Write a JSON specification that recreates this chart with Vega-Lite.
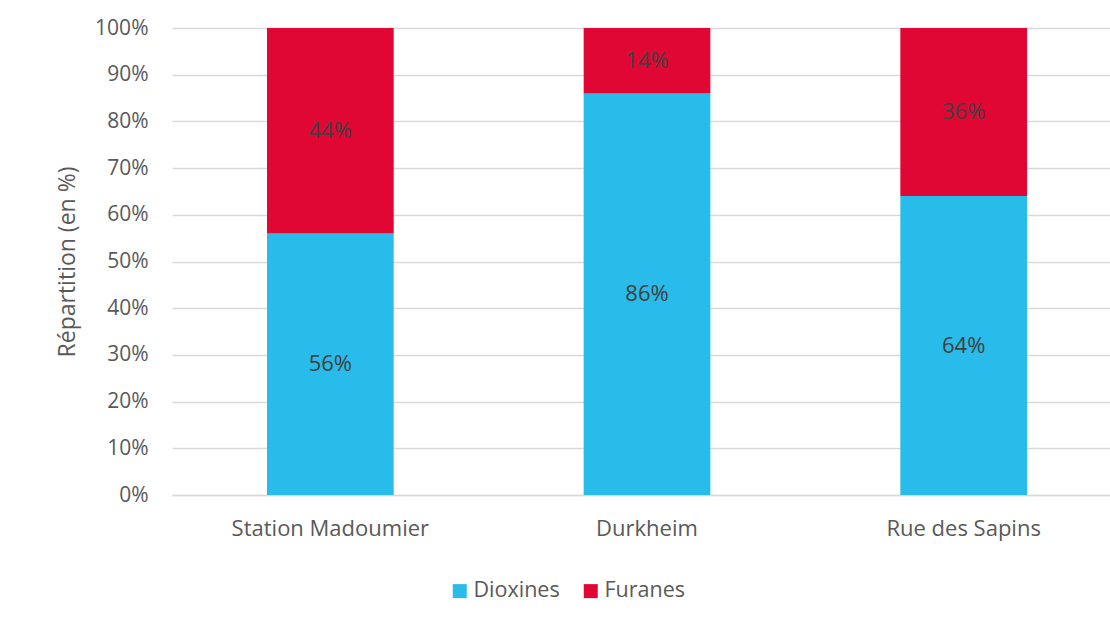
{
  "$schema": "https://vega.github.io/schema/vega-lite/v6.json",
  "autosize": {"type": "none"},
  "width": 950,
  "height": 467,
  "padding": {"left": 172, "top": 28, "right": -12, "bottom": 131},
  "background": "white",
  "config": {
    "font": "Open Sans",
    "view": {"stroke": null},
    "axis": {"labelFont": "Open Sans", "titleFont": "Open Sans", "labelColor": "#595959", "titleColor": "#595959"}
  },
  "data": {
    "values": [
      {"site": "Station Madoumier", "type": "Dioxines", "value": 56},
      {"site": "Station Madoumier", "type": "Furanes", "value": 44},
      {"site": "Durkheim", "type": "Dioxines", "value": 86},
      {"site": "Durkheim", "type": "Furanes", "value": 14},
      {"site": "Rue des Sapins", "type": "Dioxines", "value": 64},
      {"site": "Rue des Sapins", "type": "Furanes", "value": 36}
    ]
  },
  "transform": [
    {"stack": "value", "groupby": ["site"], "sort": [{"field": "type", "order": "ascending"}], "as": ["v0", "v1"]},
    {"calculate": "(datum.v0 + datum.v1) / 2", "as": "mid"},
    {"calculate": "datum.value + '%'", "as": "label"}
  ],
  "encoding": {
    "x": {
      "field": "site",
      "type": "nominal",
      "sort": ["Station Madoumier", "Durkheim", "Rue des Sapins"],
      "scale": {"paddingInner": 0.6, "paddingOuter": 0.3},
      "axis": {
        "title": null,
        "labelAngle": 0,
        "labelFontSize": 22,
        "labelLimit": 500,
        "labelPadding": 23,
        "ticks": false,
        "tickSize": 0,
        "domain": true,
        "domainColor": "#D9D9D9",
        "domainWidth": 1.5,
        "grid": false
      }
    }
  },
  "layer": [
    {
      "mark": {"type": "bar"},
      "encoding": {
        "y": {
          "field": "v1",
          "type": "quantitative",
          "scale": {"domain": [0, 100], "nice": false},
          "axis": {
            "title": "Répartition (en %)",
            "titleFontSize": 23,
            "titleFontWeight": "normal",
            "titlePadding": 15,
            "values": [0, 10, 20, 30, 40, 50, 60, 70, 80, 90, 100],
            "labelExpr": "datum.value + '%'",
            "labelFontSize": 21,
            "labelPadding": 24,
            "ticks": false,
            "tickSize": 0,
            "domain": false,
            "grid": true,
            "gridColor": "#D9D9D9",
            "gridWidth": 1.5
          }
        },
        "y2": {"field": "v0"},
        "color": {
          "field": "type",
          "type": "nominal",
          "scale": {"domain": ["Dioxines", "Furanes"], "range": ["#29BBE9", "#E00734"]},
          "legend": {
            "title": null,
            "orient": "none",
            "direction": "horizontal",
            "legendX": 277,
            "legendY": 552,
            "symbolType": "square",
            "symbolSize": 196,
            "symbolStrokeWidth": 0,
            "labelFontSize": 21.5,
            "labelColor": "#595959",
            "labelFont": "Open Sans",
            "labelOffset": 3,
            "columnPadding": 20
          }
        }
      }
    },
    {
      "mark": {"type": "text", "fontSize": 22, "color": "#404040", "baseline": "middle", "align": "center"},
      "encoding": {
        "y": {"field": "mid", "type": "quantitative"},
        "text": {"field": "label", "type": "nominal"},
        "detail": {"field": "type"}
      }
    }
  ]
}
